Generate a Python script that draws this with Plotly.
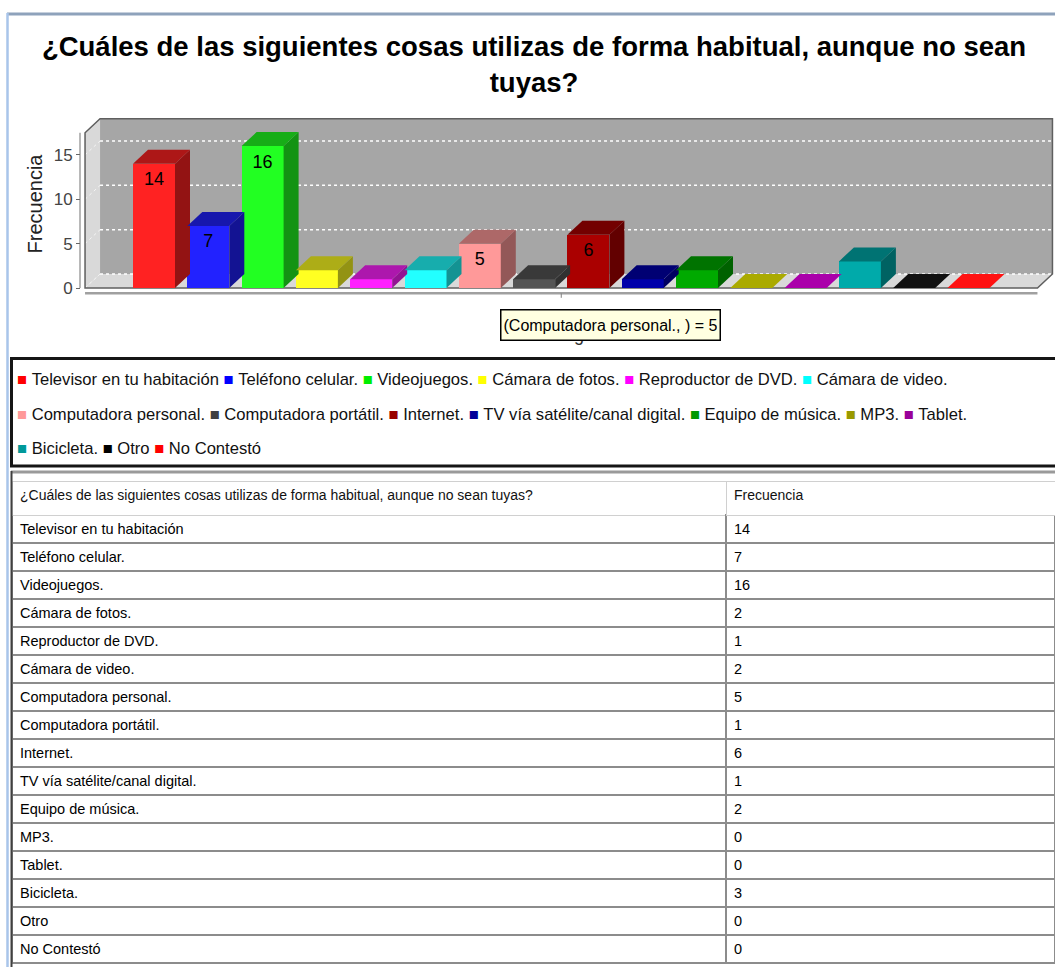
import plotly.graph_objects as go

# ---------------- data ----------------
CATEGORIES = [
    "Televisor en tu habitación", "Teléfono celular.", "Videojuegos.", "Cámara de fotos.",
    "Reproductor de DVD.", "Cámara de video.", "Computadora personal.", "Computadora portátil.",
    "Internet.", "TV vía satélite/canal digital.", "Equipo de música.", "MP3.", "Tablet.",
    "Bicicleta.", "Otro", "No Contestó",
]
VALUES = [14, 7, 16, 2, 1, 2, 5, 1, 6, 1, 2, 0, 0, 3, 0, 0]
BAR_COLORS = [
    "#ff2222", "#2222ff", "#22ff22", "#ffff22", "#ff22ff", "#22ffff", "#ff9999", "#555555",
    "#aa0000", "#0000aa", "#00aa00", "#aaaa00", "#aa00aa", "#00aaaa", "#111111", "#ff1111",
]
LEGEND_COLORS = [
    "#ff0000", "#0000ff", "#00ee00", "#ffff00", "#ff00ff", "#00ffff", "#ff9999", "#404040",
    "#990000", "#000099", "#009900", "#999900", "#990099", "#009999", "#000000", "#ff0000",
]
Y_TICKS = [0, 5, 10, 15]
TITLE_LINES = ["¿Cuáles de las siguientes cosas utilizas de forma habitual, aunque no sean", "tuyas?"]
TABLE_HEADER = ["¿Cuáles de las siguientes cosas utilizas de forma habitual, aunque no sean tuyas?",
                "Frecuencia"]
Y_TITLE = "Frecuencia"
X_TITLE = "Rango"
TOOLTIP_INDEX = 6
LEGEND_ROW_SIZES = [6, 7, 3]
LABEL_MIN = 4

# ---------------- geometry / style ----------------
W, H = 1055, 967
FONT = "Liberation Sans"
PX_PER_CAT = 54.3
CAT0_PX = 154.0
PX_PER_UNIT = 8.87
ZERO_PX = 288.0
DEPTH_X_PX, DEPTH_Y_PX = 15.0, 14.0
BAR_W_PX = 42.0
Y_MAX = 17.5
WALL_MARGIN = 1.27
YAXIS_PX = 80.0
PLOT_TOP_PX, PLOT_BOTTOM_PX = 104.0, 304.0
LABEL_DROP_PX = 17.0

DX = DEPTH_X_PX / PX_PER_CAT
DY = DEPTH_Y_PX / PX_PER_UNIT
BAR_W = BAR_W_PX / PX_PER_CAT
X_RANGE = [(0 - CAT0_PX) / PX_PER_CAT, (W - CAT0_PX) / PX_PER_CAT]
Y_RANGE = [(ZERO_PX - PLOT_BOTTOM_PX) / PX_PER_UNIT, (ZERO_PX - PLOT_TOP_PX) / PX_PER_UNIT]
Y_DOMAIN = [1 - PLOT_BOTTOM_PX / H, 1 - PLOT_TOP_PX / H]
YAXIS_X = (YAXIS_PX - CAT0_PX) / PX_PER_CAT


def px(xp):
    return xp / W


def py(yp):
    return 1 - yp / H


def shade(hex_color, f):
    h = hex_color.lstrip("#")
    r, g, b = (int(h[i:i + 2], 16) for i in (0, 2, 4))
    return "#%02x%02x%02x" % (int(r * f), int(g * f), int(b * f))


n = len(CATEGORIES)
xs = list(range(n))
L = 0 - WALL_MARGIN
R = (n - 1) + WALL_MARGIN

fig = go.Figure()

# front faces of the bars
fig.add_trace(go.Bar(
    x=xs, y=VALUES, width=BAR_W, marker=dict(color=BAR_COLORS, line=dict(width=0)),
    text=CATEGORIES, hovertemplate="(%{text}, ) = %{y}<extra></extra>", textposition="none",
    showlegend=False,
))

# top and side faces (3D depth)
for i, v in enumerate(VALUES):
    x0, x1 = i - BAR_W / 2, i + BAR_W / 2
    if v > 0:
        fig.add_trace(go.Scatter(
            x=[x1, x1, x1 + DX, x1 + DX, x1], y=[0, v, v + DY, DY, 0],
            mode="lines", fill="toself", fillcolor=shade(BAR_COLORS[i], 0.58),
            line=dict(width=0), hoverinfo="skip", showlegend=False))
    top_color = shade(BAR_COLORS[i], 0.68) if v > 0 else BAR_COLORS[i]
    fig.add_trace(go.Scatter(
        x=[x0, x1, x1 + DX, x0 + DX, x0], y=[v, v, v + DY, v + DY, v],
        mode="lines", fill="toself", fillcolor=top_color,
        line=dict(width=0), hoverinfo="skip", showlegend=False))

# value labels
lab_x = [i for i, v in enumerate(VALUES) if v >= LABEL_MIN]
lab_y = [VALUES[i] - LABEL_DROP_PX / PX_PER_UNIT for i in lab_x]
fig.add_trace(go.Scatter(
    x=lab_x, y=lab_y, mode="text", text=[str(VALUES[i]) for i in lab_x],
    textfont=dict(family=FONT, size=18, color="#000000"), hoverinfo="skip",
    showlegend=False, cliponaxis=False))

# table
fig.add_trace(go.Table(
    domain=dict(x=[px(12), 1], y=[0, py(481)]),
    columnwidth=[714, 329],
    header=dict(values=TABLE_HEADER, align="left", height=34,
                fill=dict(color="#ffffff"), line=dict(color="#d0d0d0", width=1),
                font=dict(family=FONT, size=14, color="#111111")),
    cells=dict(values=[CATEGORIES, VALUES], align="left", height=28,
               fill=dict(color="#ffffff"), line=dict(color="#8c8c8c", width=2),
               font=dict(family=FONT, size=14.5, color="#000000")),
))

shapes = []
# walls and floor
shapes.append(dict(type="path", xref="x", yref="y", layer="below",
                   path=f"M{L},0 L{L},{Y_MAX} L{L + DX},{Y_MAX + DY} L{L + DX},{DY} Z",
                   fillcolor="#d9d9d9", line=dict(width=0)))
shapes.append(dict(type="path", xref="x", yref="y", layer="below",
                   path=f"M{L},0 L{R},0 L{R + DX},{DY} L{L + DX},{DY} Z",
                   fillcolor="#d9d9d9", line=dict(width=0)))
shapes.append(dict(type="rect", xref="x", yref="y", layer="below",
                   x0=L + DX, x1=R + DX, y0=DY, y1=Y_MAX + DY,
                   fillcolor="#a6a6a6", line=dict(width=0)))
for t in Y_TICKS:
    shapes.append(dict(type="line", xref="x", yref="y", layer="below",
                       x0=L + DX, x1=R + DX, y0=t + DY, y1=t + DY,
                       line=dict(color="#ffffff", width=1.5, dash="dot")))
    shapes.append(dict(type="line", xref="x", yref="y", layer="below",
                       x0=L, x1=L + DX, y0=t, y1=t + DY,
                       line=dict(color="#f4f4f4", width=1, dash="dot")))
shapes.append(dict(type="path", xref="x", yref="y", layer="below",
                   path=(f"M{L},0 L{L},{Y_MAX} L{L + DX},{Y_MAX + DY} L{R + DX},{Y_MAX + DY} "
                         f"L{R + DX},{DY} L{R},0 Z"),
                   line=dict(color="#5f5f5f", width=1.5)))
# category axis line under the floor and its tick
ax_off = 5.3 / PX_PER_UNIT
shapes.append(dict(type="line", xref="x", yref="y", x0=L, x1=R, y0=-ax_off, y1=-ax_off,
                   line=dict(color="#a0a0a0", width=2.5)))
shapes.append(dict(type="line", xref="x", yref="y", x0=(n - 1) / 2, x1=(n - 1) / 2,
                   y0=-ax_off, y1=-ax_off - 4.5 / PX_PER_UNIT, line=dict(color="#808080", width=1)))
# value axis line
shapes.append(dict(type="line", xref="x", yref="y", x0=YAXIS_X, x1=YAXIS_X, y0=0, y1=Y_MAX,
                   line=dict(color="#707070", width=1)))

# window frame
shapes.append(dict(type="line", xref="paper", yref="paper", x0=px(7), x1=1.0, y0=py(14), y1=py(14),
                   line=dict(color="#8ea2bb", width=3)))
shapes.append(dict(type="line", xref="paper", yref="paper", x0=px(7.5), x1=px(7.5), y0=py(13), y1=0,
                   line=dict(color="#a9c5ea", width=2.5)))
# legend box
shapes.append(dict(type="rect", xref="paper", yref="paper", x0=px(11.5), x1=1.01,
                   y0=py(466), y1=py(358.5), line=dict(color="#151515", width=3)))
# table top border and left border
shapes.append(dict(type="line", xref="paper", yref="paper", x0=px(11), x1=1.0, y0=py(472), y1=py(472),
                   line=dict(color="#9a9a9a", width=3)))
shapes.append(dict(type="line", xref="paper", yref="paper", x0=px(11.5), x1=px(11.5), y0=0, y1=py(471),
                   line=dict(color="#404040", width=2)))

annotations = []
# legend rows
start = 0
row_y = [379, 414, 449]
for r, size in enumerate(LEGEND_ROW_SIZES):
    items = [f"<span style='color:{LEGEND_COLORS[i]}'>■</span>\u00a0{CATEGORIES[i]}"
             for i in range(start, start + size)]
    start += size
    annotations.append(dict(xref="paper", yref="paper", x=px(15), y=py(row_y[r]),
                            xanchor="left", yanchor="middle", showarrow=False,
                            text="\u00a0".join(items),
                            font=dict(family=FONT, size=16.6, color="#111111")))
# category axis title and the tooltip over it
annotations.append(dict(xref="paper", yref="paper", x=px(567), y=py(335), xanchor="center",
                        yanchor="middle", showarrow=False, text=X_TITLE,
                        font=dict(family=FONT, size=18, color="#333333")))
annotations.append(dict(xref="paper", yref="paper", x=px(610.5), y=py(324.5), xanchor="center",
                        yanchor="middle", showarrow=False,
                        text=f"({CATEGORIES[TOOLTIP_INDEX]}, ) = {VALUES[TOOLTIP_INDEX]}",
                        font=dict(family=FONT, size=16, color="#000000"),
                        bgcolor="#ffffe1", bordercolor="#000000", borderwidth=1.5, borderpad=2,
                        height=25))

fig.update_layout(
    width=W, height=H, margin=dict(l=0, r=0, t=0, b=0),
    paper_bgcolor="#ffffff", plot_bgcolor="rgba(0,0,0,0)", showlegend=False,
    title=dict(text="<br>".join(TITLE_LINES), x=px(534), xanchor="center", xref="paper",
               y=py(56), yanchor="middle", yref="container",
               font=dict(family=FONT, size=27.5, color="#000000", weight="bold")),
    xaxis=dict(domain=[0, 1], range=X_RANGE, visible=False, fixedrange=True),
    yaxis=dict(domain=Y_DOMAIN, range=Y_RANGE, anchor="free", position=px(YAXIS_PX),
               tickvals=Y_TICKS, ticks="outside", ticklen=4, tickcolor="#666666",
               tickfont=dict(family=FONT, size=17, color="#444444"),
               showgrid=False, zeroline=False, showline=False, fixedrange=True,
               title=dict(text=Y_TITLE, standoff=4,
                          font=dict(family=FONT, size=20, color="#222222"))),
    shapes=shapes, annotations=annotations,
    bargap=0,
)

fig.write_html("out.html", config={"displayModeBar": False},
               post_script="document.body.style.margin='0px';")
